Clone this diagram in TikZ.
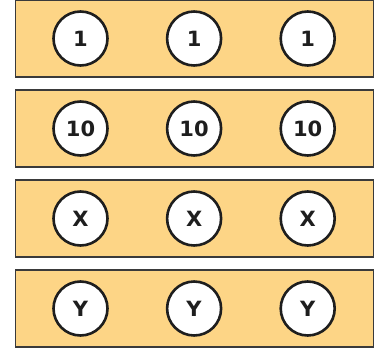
\documentclass[tikz,border=0pt]{standalone}
\usepackage{fontspec}
\setmainfont{DejaVu Sans}
\usepackage{tikz}
\usetikzlibrary{positioning}
\definecolor{trayfill}{HTML}{FDD586}
\definecolor{trayline}{HTML}{3A3A3A}
\definecolor{darktext}{HTML}{1E1E1E}

\begin{document}
\begin{tikzpicture}[x=1pt,y=1pt,
  tray/.style={draw=trayline,line width=1.2pt,fill=trayfill,
               minimum width=358pt,minimum height=77pt,inner sep=0pt},
  token/.style={circle,draw=darktext,line width=2.6pt,fill=white,
                minimum size=54pt,inner sep=0pt,
                font=\fontsize{21}{21}\selectfont\bfseries,text=darktext}]
\useasboundingbox (0,0) rectangle (377,-350);
% four trays, three tokens each
\foreach \row/\lab [count=\i from 0] in {one/1,ten/10,ex/X,why/Y}{
  \node[tray] (\row) at (194.5,-38.5-90*\i) {};
  \node[token] (\row-a) at (80.5,-38.5-90*\i) {\lab};
  \node[token,right=57pt of \row-a] (\row-b) {\lab};
  \node[token,right=57pt of \row-b] (\row-c) {\lab};
}
\end{tikzpicture}
\end{document}
